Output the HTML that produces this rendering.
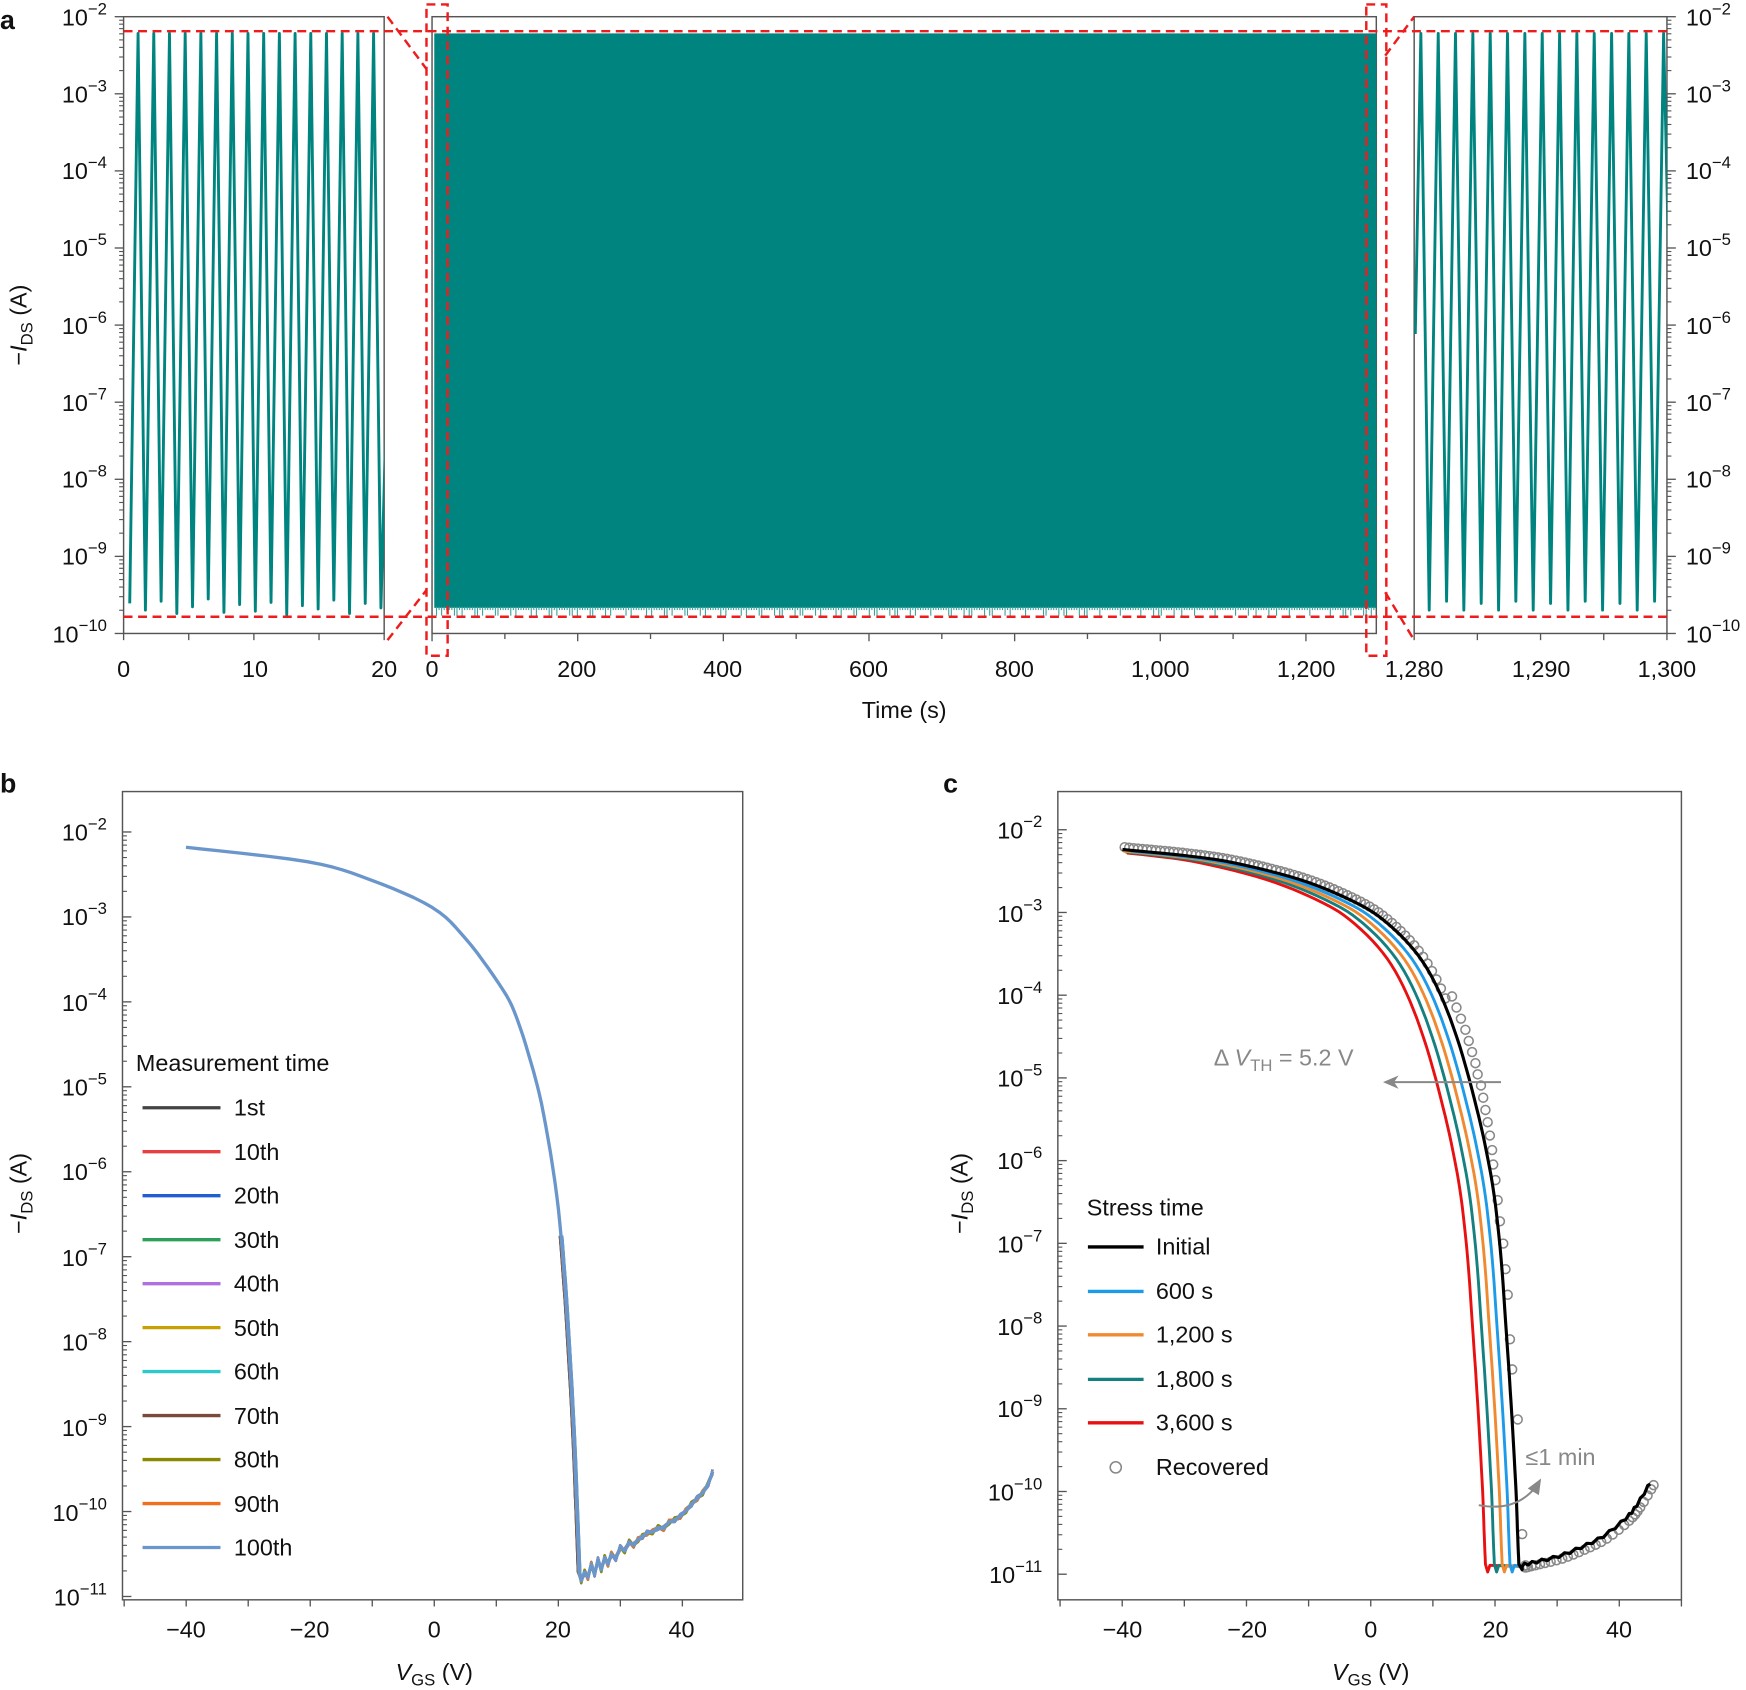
<!DOCTYPE html>
<html><head><meta charset="utf-8"><style>html,body{margin:0;padding:0;background:#fff}svg{display:block}text{font-family:"Liberation Sans",Arial,sans-serif;fill:#111}</style></head>
<body>
<svg id="s" width="1746" height="1690" viewBox="0 0 1568 1518" preserveAspectRatio="none" xmlns="http://www.w3.org/2000/svg">
<defs>
<clipPath id="cl"><rect x="111" y="15" width="234" height="554"/></clipPath>
<clipPath id="cr"><rect x="1270" y="15" width="227" height="554"/></clipPath>
</defs>
<g id="g"></g>
<text x="0" y="26" font-size="24" font-weight="bold">a</text>
<g font-size="21" text-anchor="end">
<text x="96" y="23">10<tspan dy="-10" font-size="15">−2</tspan></text>
<text x="96" y="92">10<tspan dy="-10" font-size="15">−3</tspan></text>
<text x="96" y="161">10<tspan dy="-10" font-size="15">−4</tspan></text>
<text x="96" y="230">10<tspan dy="-10" font-size="15">−5</tspan></text>
<text x="96" y="300">10<tspan dy="-10" font-size="15">−6</tspan></text>
<text x="96" y="369">10<tspan dy="-10" font-size="15">−7</tspan></text>
<text x="96" y="438">10<tspan dy="-10" font-size="15">−8</tspan></text>
<text x="96" y="507">10<tspan dy="-10" font-size="15">−9</tspan></text>
<text x="96" y="577">10<tspan dy="-10" font-size="15">−10</tspan></text>
</g>
<g font-size="21">
<text x="1514" y="23">10<tspan dy="-10" font-size="15">−2</tspan></text>
<text x="1514" y="92">10<tspan dy="-10" font-size="15">−3</tspan></text>
<text x="1514" y="161">10<tspan dy="-10" font-size="15">−4</tspan></text>
<text x="1514" y="230">10<tspan dy="-10" font-size="15">−5</tspan></text>
<text x="1514" y="300">10<tspan dy="-10" font-size="15">−6</tspan></text>
<text x="1514" y="369">10<tspan dy="-10" font-size="15">−7</tspan></text>
<text x="1514" y="438">10<tspan dy="-10" font-size="15">−8</tspan></text>
<text x="1514" y="507">10<tspan dy="-10" font-size="15">−9</tspan></text>
<text x="1514" y="577">10<tspan dy="-10" font-size="15">−10</tspan></text>
</g>
<g font-size="21" text-anchor="middle">
<text x="111" y="608">0</text><text x="229" y="608">10</text><text x="345" y="608">20</text>
<text x="388" y="608">0</text><text x="518" y="608">200</text><text x="649" y="608">400</text><text x="780" y="608">600</text><text x="911" y="608">800</text><text x="1042" y="608">1,000</text><text x="1173" y="608">1,200</text>
<text x="1270" y="608">1,280</text><text x="1384" y="608">1,290</text><text x="1497" y="608">1,300</text>
<text x="812" y="645">Time (s)</text>
</g>
<text transform="translate(24,292) rotate(-90)" font-size="21" text-anchor="middle">−<tspan font-style="italic">I</tspan><tspan font-size="15" dy="5">DS</tspan><tspan dy="-5"> (A)</tspan></text>

<text x="0" y="712" font-size="24" font-weight="bold">b</text>
<g font-size="21" text-anchor="middle">
<text x="167" y="1471">−40</text><text x="278" y="1471">−20</text><text x="390" y="1471">0</text><text x="501" y="1471">20</text><text x="612" y="1471">40</text>
<text x="390" y="1509"><tspan font-style="italic">V</tspan><tspan font-size="15" dy="5">GS</tspan><tspan dy="-5"> (V)</tspan></text>
</g>
<text transform="translate(24,1072) rotate(-90)" font-size="21" text-anchor="middle">−<tspan font-style="italic">I</tspan><tspan font-size="15" dy="5">DS</tspan><tspan dy="-5"> (A)</tspan></text>
<g font-size="21">
<text x="122" y="962">Measurement time</text>
<text x="210" y="1002">1st</text><text x="210" y="1042">10th</text><text x="210" y="1081">20th</text><text x="210" y="1121">30th</text><text x="210" y="1160">40th</text><text x="210" y="1200">50th</text><text x="210" y="1239">60th</text><text x="210" y="1279">70th</text><text x="210" y="1318">80th</text><text x="210" y="1358">90th</text><text x="210" y="1397">100th</text>
</g>
<g font-size="21" text-anchor="end">
<text x="96" y="755">10<tspan dy="-10" font-size="15">−2</tspan></text>
<text x="96" y="831">10<tspan dy="-10" font-size="15">−3</tspan></text>
<text x="96" y="908">10<tspan dy="-10" font-size="15">−4</tspan></text>
<text x="96" y="984">10<tspan dy="-10" font-size="15">−5</tspan></text>
<text x="96" y="1060">10<tspan dy="-10" font-size="15">−6</tspan></text>
<text x="96" y="1137">10<tspan dy="-10" font-size="15">−7</tspan></text>
<text x="96" y="1213">10<tspan dy="-10" font-size="15">−8</tspan></text>
<text x="96" y="1290">10<tspan dy="-10" font-size="15">−9</tspan></text>
<text x="96" y="1366">10<tspan dy="-10" font-size="15">−10</tspan></text>
<text x="96" y="1442">10<tspan dy="-10" font-size="15">−11</tspan></text>
</g>

<text x="847" y="712" font-size="24" font-weight="bold">c</text>
<g font-size="21" text-anchor="end">
<text x="936" y="753">10<tspan dy="-10" font-size="15">−2</tspan></text>
<text x="936" y="828">10<tspan dy="-10" font-size="15">−3</tspan></text>
<text x="936" y="902">10<tspan dy="-10" font-size="15">−4</tspan></text>
<text x="936" y="976">10<tspan dy="-10" font-size="15">−5</tspan></text>
<text x="936" y="1050">10<tspan dy="-10" font-size="15">−6</tspan></text>
<text x="936" y="1125">10<tspan dy="-10" font-size="15">−7</tspan></text>
<text x="936" y="1199">10<tspan dy="-10" font-size="15">−8</tspan></text>
<text x="936" y="1273">10<tspan dy="-10" font-size="15">−9</tspan></text>
<text x="936" y="1348">10<tspan dy="-10" font-size="15">−10</tspan></text>
<text x="936" y="1422">10<tspan dy="-10" font-size="15">−11</tspan></text>
</g>
<g font-size="21" text-anchor="middle">
<text x="1008" y="1471">−40</text><text x="1120" y="1471">−20</text><text x="1231" y="1471">0</text><text x="1343" y="1471">20</text><text x="1454" y="1471">40</text>
<text x="1231" y="1509"><tspan font-style="italic">V</tspan><tspan font-size="15" dy="5">GS</tspan><tspan dy="-5"> (V)</tspan></text>
</g>
<text transform="translate(869,1072) rotate(-90)" font-size="21" text-anchor="middle">−<tspan font-style="italic">I</tspan><tspan font-size="15" dy="5">DS</tspan><tspan dy="-5"> (A)</tspan></text>
<g font-size="21">
<text x="976" y="1092">Stress time</text>
<text x="1038" y="1127">Initial</text><text x="1038" y="1167">600 s</text><text x="1038" y="1206">1,200 s</text><text x="1038" y="1246">1,800 s</text><text x="1038" y="1285">3,600 s</text><text x="1038" y="1325">Recovered</text>
</g>
<text x="1090" y="957" font-size="21" style="fill:#888">Δ <tspan font-style="italic">V</tspan><tspan font-size="15" dy="5">TH</tspan><tspan dy="-5"> = 5.2 V</tspan></text>
<text x="1370" y="1316" font-size="21" style="fill:#888">≤1 min</text>
</svg>
<script>
const NS="http://www.w3.org/2000/svg",G=document.getElementById('g');
function el(t,a,p){const e=document.createElementNS(NS,t);for(const k in a)e.setAttribute(k,a[k]);(p||G).appendChild(e);return e;}
function line(x1,y1,x2,y2,c,w,extra){return el('line',Object.assign({x1,y1,x2,y2,stroke:c,'stroke-width':w},extra||{}));}
function pl(pts,c,w,extra){return el('polyline',Object.assign({points:pts.map(p=>p[0].toFixed(1)+','+p[1].toFixed(1)).join(' '),fill:'none',stroke:c,'stroke-width':w,'stroke-linejoin':'round'},extra||{}));}
function smooth(p,n){const out=[];for(let i=0;i<p.length-1;i++){const p0=p[Math.max(0,i-1)],p1=p[i],p2=p[i+1],p3=p[Math.min(p.length-1,i+2)];for(let k=0;k<n;k++){const t=k/n,t2=t*t,t3=t2*t;const f=(a,b,c,d)=>0.5*((2*b)+(-a+c)*t+(2*a-5*b+4*c-d)*t2+(-a+3*b-3*c+d)*t3);out.push([f(p0[0],p1[0],p2[0],p3[0]),f(p0[1],p1[1],p2[1],p3[1])]);}}out.push(p[p.length-1]);return out;}
const T='#00847f',AX='#555';
el('rect',{x:111,y:15,width:234,height:554,fill:'none',stroke:AX,'stroke-width':1.3});
el('rect',{x:388,y:15,width:848,height:554,fill:'none',stroke:AX,'stroke-width':1.3});
el('rect',{x:1270,y:15,width:227,height:554,fill:'none',stroke:AX,'stroke-width':1.3});
function logTicks(x,y0,dec,n,dir){for(let d=0;d<n;d++){const yb=y0-d*dec;line(x,yb,x+dir*8,yb,AX,1.2);if(d<n-1)for(let k=2;k<10;k++){const y=yb-Math.log10(k)*dec;line(x,y,x+dir*4,y,AX,1);}}}
logTicks(111,569,69.25,9,-1);logTicks(1497,569,69.25,9,1);
[0,5,10,15,20].forEach(v=>line(111+v*11.7,569,111+v*11.7,575,AX,1.2));
for(let v=0;v<=1200;v+=100)line(388+v*0.654,569,388+v*0.654,v%200?574:576,AX,1.2);
[0,5,10,15,20].forEach(v=>line(1270+v*11.35,569,1270+v*11.35,575,AX,1.2));
let pts=[];const ty=[542,548,540,551,545,538,550,543,549,541,552,544,547,539,551,542,546];
for(let k=0;k<17;k++){pts.push([116.5+14.1*k,ty[k]]);if(k<16)pts.push([124+14.1*k,30]);}
pts.push([356,30]);pl(pts,T,2.6,{'clip-path':'url(#cl)'});
el('rect',{x:390,y:30,width:846,height:516,fill:T});
for(let x=392;x<1236;x+=2.3){const h=(Math.sin(x*1.7)+Math.sin(x*0.37))>0.6?8:3;line(x,545,x,545+h,'#3aa39e',1);}
pts=[[1271,300]];const ry=[548,540,548,542,548,540,548,542,548,540,548,542,548,540];
for(let k=0;k<15;k++){pts.push([1276+15.57*k,30]);if(k<14)pts.push([1283.5+15.57*k,ry[k]]);}
pts.push([1500,300]);pl(pts,T,2.6,{'clip-path':'url(#cr)'});
const R='#ee1c1c',da={'stroke-dasharray':'8,5'};
line(111,28,1497,28,R,2.2,da);line(111,554,1497,554,R,2.2,da);
line(348,15,383,62,R,2.2,da);line(348,575,383,530,R,2.2,da);
line(1244,50,1270,15,R,2.2,da);line(1244,532,1270,575,R,2.2,da);
el('rect',{x:383,y:4,width:19,height:585,fill:'none',stroke:R,'stroke-width':2.2,'stroke-dasharray':'8,5'});
el('rect',{x:1227,y:4,width:18,height:585,fill:'none',stroke:R,'stroke-width':2.2,'stroke-dasharray':'8,5'});
el('rect',{x:110,y:711,width:557,height:726,fill:'none',stroke:AX,'stroke-width':1.3});
logTicks(110,1434,76.3,10,1);
for(let v=-50;v<=50;v+=10){const x=390+v*5.57;if(x>=110&&x<=667)line(x,1437,x,1443,AX,1.2);}
const bc=smooth([[167,761],[276,774],[332,790],[388,815],[418,843],[447,882],[462,909],[477,955],[488,1000],[500,1074],[507,1151],[514,1265],[518,1357],[520,1412]],6);
const tail=[[522,1420],[525,1412],[528,1417],[531,1405],[534,1414],[537,1401],[540,1410],[543,1399],[546,1405],[549,1396],[553,1400],[557,1390],[561,1393],[565,1385],[569,1388],[573,1383],[577,1380],[581,1377],[586,1376],[591,1372],[596,1373],[601,1367],[606,1365],[611,1362],[616,1357],[621,1351],[626,1346],[631,1341],[636,1333],[640,1322]];
const bcols=['#444','#e84040','#1f5fcf','#2ca05a','#b070e0','#c8a000','#30c8c8','#7a4a3a','#8a8a00','#f07020','#6a96cc'];
const bsteep=bc.filter(p=>p[1]>1100);
bcols.forEach((c,i)=>{const o=(i*37%7)-3;pl(bsteep.map(p=>[p[0]+o*0.35,p[1]]).concat(tail.map((p,j)=>[p[0],p[1]+((i+j)%3-1)*2])),c,2.2);});
pl(bc.concat(tail),'#6a96cc',3);
bcols.forEach((c,i)=>line(128,995+39.5*i,198,995+39.5*i,c,3));
el('rect',{x:950,y:711,width:560,height:726,fill:'none',stroke:AX,'stroke-width':1.3});
logTicks(950,1414,74.3,10,1);
for(let v=-50;v<=50;v+=10){const x=1231+v*5.58;if(x>=950&&x<=1510)line(x,1437,x,1443,AX,1.2);}
const blkRaw=[[978,758],[1008,763],[1060,768],[1108,775],[1167,790],[1212,808],[1242,826],[1272,856],[1293,892],[1311,940],[1326,995],[1335,1035],[1342,1075],[1348,1130],[1353,1200],[1357,1260],[1361,1330],[1363,1380],[1364,1405]];
const blk=smooth(blkRaw,6);
function yAt(x){for(let i=1;i<blk.length;i++){if(x<=blk[i][0]){const a=blk[i-1],b=blk[i];return a[1]+(b[1]-a[1])*(x-a[0])/(b[0]-a[0]);}}return 1405;}
const floorS=smooth([[1367,1406],[1380,1403],[1400,1398],[1420,1390],[1440,1380],[1460,1364],[1470,1352],[1482,1332]],4);
const floor=floorS.map((p,i)=>[p[0],p[1]+(i%2?-1.5:1)]);
function shifted(s){const a=blk.filter(p=>p[0]>=1008+s).map(p=>[p[0]-s,p[1]]);const last=a[a.length-1];a.push([last[0]+2,1412]);a.push([last[0]+4,1406]);return a.concat(floor.filter(p=>p[0]>last[0]+6));}
const cg=el('g',{fill:'none',stroke:'#888','stroke-width':1.4});
for(let x=1008;x<1300;x+=4)el('circle',{cx:x+2,cy:yAt(x)-2,r:4},cg);
[[1301,895],[1305,905],[1309,915],[1313,925],[1316,935],[1319,945],[1322,955],[1324,965],[1327,975],[1329,986],[1331,997],[1333,1008],[1335,1020],[1337,1033],[1338,1046],[1340,1060],[1342,1078],[1344,1097],[1347,1117],[1349,1140],[1351,1163],[1353,1203],[1355,1230],[1360,1275],[1364,1378],[1367,1406]].forEach(p=>el('circle',{cx:p[0]+3,cy:p[1],r:4},cg));
floorS.forEach(p=>el('circle',{cx:p[0]+3,cy:p[1]+2,r:4},cg));
[[30,'#e81010'],[22,'#148080'],[15,'#f08a30'],[8,'#1e9be8']].forEach(([s,c])=>pl(shifted(s),c,2.6));
pl(blk.filter(p=>p[0]>=1008).concat([[1367,1410]]).concat(floor),'#000',2.8);
[['#000',1120],['#1e9be8',1160],['#f08a30',1199],['#148080',1239],['#e81010',1278]].forEach(([c,y])=>line(977,y,1027,y,c,3));
el('circle',{cx:1002,cy:1318,r:5,fill:'none',stroke:'#888','stroke-width':1.4});
line(1348,972,1250,972,'#888',1.8);el('polygon',{points:'1242,972 1256,966 1252,972 1256,978',fill:'#888'});
el('path',{d:'M1328,1352 Q1360,1358 1378,1337',fill:'none',stroke:'#888','stroke-width':1.8});
el('polygon',{points:'1384,1328 1382,1343 1372,1337',fill:'#888'});
</script>
</body></html>
